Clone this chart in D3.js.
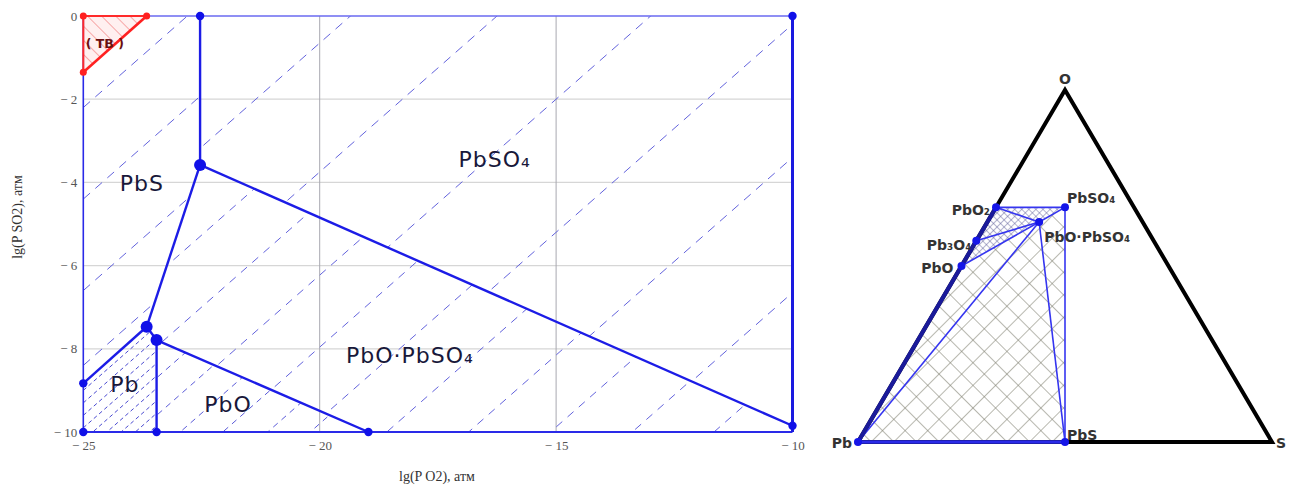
<!DOCTYPE html>
<html><head><meta charset="utf-8">
<script src="https://cdn.jsdelivr.net/npm/d3@7"></script>
<style>body{margin:0;background:#fff;} svg{display:block}</style>
</head><body>
<svg id="c" width="1293" height="489"></svg>
<script>
// ---------- DATA: left diagram (lg P O2 vs lg P SO2) ----------
const xTicks = [-25, -20, -15, -10];
const yTicks = [0, -2, -4, -6, -8, -10];
const xGrid = [-20, -15];
const yGrid = [-2, -4, -6, -8];

// phase boundaries [lgPO2, lgPSO2]
const bPbS_PbSO4 = [[-22.53, 0], [-22.53, -3.58]];
const bPbSO4_PbOPbSO4 = [[-22.53, -3.58], [-10, -9.85]];
const bPbS_PbOPbSO4 = [[-22.53, -3.58], [-23.66, -7.47]];
const bPbS_Pb = [[-23.66, -7.47], [-25, -8.83]];
const bPb_PbOPbSO4 = [[-23.66, -7.47], [-23.45, -7.79]];
const bPb_PbO = [[-23.45, -7.79], [-23.45, -10]];
const bPbO_PbOPbSO4 = [[-23.45, -7.79], [-18.97, -10]];
const bRed = [[-25, -1.35], [-23.66, 0]];

const bigPoints = [[-22.53, -3.58], [-23.66, -7.47], [-23.45, -7.79]];
const smallPoints = [[-22.53, 0], [-25, -8.83], [-23.45, -10], [-18.97, -10], [-25, -10], [-10, 0], [-10, -9.85]];
const redPoints = [[-25, -1.35], [-23.66, 0], [-25, 0]];

// regions (polygons)
const regPbS = [[-25, 0], [-22.53, 0], [-22.53, -3.58], [-23.66, -7.47], [-25, -8.83]];
const regPbSO4 = [[-22.53, 0], [-10, 0], [-10, -9.85], [-22.53, -3.58]];
const regPbOPbSO4 = [[-22.53, -3.58], [-10, -9.85], [-10, -10], [-18.97, -10], [-23.45, -7.79], [-23.66, -7.47]];
const regPbO = [[-23.45, -7.79], [-18.97, -10], [-23.45, -10]];
const regPb = [[-25, -8.83], [-23.66, -7.47], [-23.45, -7.79], [-23.45, -10], [-25, -10]];
const regRed = [[-25, 0], [-23.66, 0], [-25, -1.35]];

// dashed isolines (lgPSO2 = lgPO2 + c), intercepts c per region
const isoPbS = [22.8, 20.6, 18.4, 16.6];
const isoPbSO4 = [19.35, 16.25, 13.0, 9.8, 6.6, 3.35];
const isoPbOPbSO4 = [1.66, 3.39, 5.12, 6.85, 8.58, 10.31, 12.04, 13.77, 15.5, 17.23];
const isoPbO = [10.2, 11.1, 12.05, 12.95, 13.85, 14.75, 15.6];
const isoPb = [13.6, 13.9, 14.2, 14.5, 14.8, 15.1, 15.4, 15.7, 16.0];

// region labels [text, lgPO2 (centre), lgPSO2 (baseline)]
const regionNames = ["PbS", "PbSO₄", "Pb", "PbO", "PbO·PbSO₄"];
const regionX = [-23.76, -16.3, -24.12, -21.94, -18.09];
const regionY = [-4.21, -3.63, -9.04, -9.52, -8.34];

// ---------- DATA: ternary Pb–S–O ----------
const triPhases = ["Pb", "S", "O", "PbS", "PbO", "Pb3O4", "PbO2", "PbSO4", "PbO·PbSO4"];
const triLabels = ["Pb", "S", "O", "PbS", "PbO", "Pb₃O₄", "PbO₂", "PbSO₄", "PbO·PbSO₄"];
const triPb = [1, 0, 0, 1, 1, 3, 1, 1, 2];
const triS  = [0, 1, 0, 1, 0, 0, 0, 1, 1];
const triO  = [0, 0, 1, 0, 1, 4, 2, 4, 5];
const tieLines = [["PbO2", "PbSO4"], ["PbO2", "PbO·PbSO4"], ["Pb3O4", "PbO·PbSO4"], ["PbO", "PbO·PbSO4"],
                  ["PbSO4", "PbO·PbSO4"], ["Pb", "PbO·PbSO4"], ["PbS", "PbO·PbSO4"], ["PbS", "PbSO4"]];
const coarseHatch = ["Pb", "PbO", "PbO·PbSO4", "PbSO4", "PbS"];
const denseHatch = ["PbO", "PbO2", "PbSO4", "PbO·PbSO4"];
const triDots = ["Pb", "PbS", "PbO", "Pb3O4", "PbO2", "PbSO4", "PbO·PbSO4"];

// ---------- DRAW ----------
const svg = d3.select("#c");
const defs = svg.append("defs");
const x = d3.scaleLinear().domain([-25, -10]).range([83.3, 792.5]);
const y = d3.scaleLinear().domain([0, -10]).range([16, 432]);
const line = d3.line().x(d => x(d[0])).y(d => y(d[1]));
const poly = pts => line(pts) + "Z";

// grid
svg.append("g").selectAll("line").data(yGrid).join("line")
  .attr("x1", x(-25)).attr("x2", x(-10)).attr("y1", d => y(d)).attr("y2", d => y(d))
  .attr("stroke", "#d6d6d6").attr("stroke-width", 1.3);
svg.append("g").selectAll("line").data(xGrid).join("line")
  .attr("y1", y(0)).attr("y2", y(-10)).attr("x1", d => x(d)).attr("x2", d => x(d))
  .attr("stroke", "#a8a8b0").attr("stroke-width", 1);

// red region
defs.append("pattern").attr("id", "redh").attr("patternUnits", "userSpaceOnUse")
  .attr("width", 10).attr("height", 10).attr("patternTransform", "rotate(-45)")
  .append("line").attr("x1", 0).attr("y1", 0).attr("x2", 0).attr("y2", 10)
  .attr("stroke", "#f06060").attr("stroke-width", 1);
svg.append("path").attr("d", poly(regRed)).attr("fill", "#fff0f0");
svg.append("path").attr("d", poly(regRed)).attr("fill", "url(#redh)");

// isolines clipped per region
function isoGroup(id, region, cs, dash, color, width) {
  defs.append("clipPath").attr("id", id).append("path").attr("d", poly(region));
  svg.append("g").attr("clip-path", `url(#${id})`).selectAll("line").data(cs).join("line")
    .attr("x1", x(-25)).attr("y1", c => y(-25 + c))
    .attr("x2", x(-10)).attr("y2", c => y(-10 + c))
    .attr("stroke", color).attr("stroke-width", width).attr("stroke-dasharray", dash);
}
isoGroup("cPbS", regPbS, isoPbS, "9,7", "#6262dc", 1);
isoGroup("cPbSO4", regPbSO4, isoPbSO4, "9,7", "#6262dc", 1);
isoGroup("cPbOPbSO4", regPbOPbSO4, isoPbOPbSO4, "8,7", "#6262dc", 1);
isoGroup("cPbO", regPbO, isoPbO, "6,5", "#5a5ad8", 1);
isoGroup("cPb", regPb, isoPb, "4,3", "#4a4ad0", 1);

// frame
svg.append("line").attr("x1", x(-25)).attr("x2", x(-10)).attr("y1", y(0)).attr("y2", y(0))
  .attr("stroke", "#6a6af0").attr("stroke-width", 1.6);
svg.append("line").attr("x1", x(-25)).attr("x2", x(-25)).attr("y1", y(0)).attr("y2", y(-10))
  .attr("stroke", "#2a2ae8").attr("stroke-width", 1.6);
svg.append("line").attr("x1", x(-25)).attr("x2", x(-10)).attr("y1", y(-10)).attr("y2", y(-10))
  .attr("stroke", "#2a2ae8").attr("stroke-width", 2.2);
svg.append("line").attr("x1", x(-10)).attr("x2", x(-10)).attr("y1", y(0)).attr("y2", y(-10))
  .attr("stroke", "#1a1ae0").attr("stroke-width", 3);

// red boundary
svg.append("path").attr("d", line([[-23.66, 0], [-25, 0]])).attr("stroke", "#ff2a2a").attr("stroke-width", 2).attr("fill", "none");
svg.append("path").attr("d", line([[-25, 0], [-25, -1.35]])).attr("stroke", "#ff2a2a").attr("stroke-width", 2).attr("fill", "none");
svg.append("path").attr("d", line(bRed)).attr("stroke", "#ff2020").attr("stroke-width", 2.6).attr("fill", "none");
svg.selectAll(".rp").data(redPoints).join("circle").attr("cx", d => x(d[0])).attr("cy", d => y(d[1]))
  .attr("r", 3.5).attr("fill", "#ff2020");
svg.append("text").attr("x", x(-24.95)).attr("y", y(-0.78)).text("( ТВ )")
  .attr("font-family", "DejaVu Sans").attr("font-size", 12.5).attr("font-weight", "bold").attr("fill", "#6a1010");

// phase boundaries
[bPbS_PbSO4, bPbSO4_PbOPbSO4, bPbS_PbOPbSO4, bPbS_Pb, bPb_PbOPbSO4, bPb_PbO, bPbO_PbOPbSO4].forEach(b =>
  svg.append("path").attr("d", line(b)).attr("fill", "none").attr("stroke", "#1c1ce6").attr("stroke-width", 2.4));
svg.selectAll(".bp").data(bigPoints).join("circle").attr("cx", d => x(d[0])).attr("cy", d => y(d[1]))
  .attr("r", 6).attr("fill", "#1010e8");
svg.selectAll(".sp").data(smallPoints).join("circle").attr("cx", d => x(d[0])).attr("cy", d => y(d[1]))
  .attr("r", 4.2).attr("fill", "#1010e8");

// region labels
svg.selectAll(".rl").data(regionNames).join("text")
  .attr("x", (d, i) => x(regionX[i])).attr("y", (d, i) => y(regionY[i]))
  .attr("text-anchor", "middle").text(d => d)
  .attr("font-family", "DejaVu Sans").attr("font-size", 22).attr("letter-spacing", 1)
  .attr("fill", "#18183a");

// axes
const fmt = d => d === 0 ? "0" : "− " + Math.abs(d);
const ax = svg.append("g").attr("transform", `translate(0,${y(-10)})`)
  .call(d3.axisBottom(x).tickValues(xTicks).tickSize(0).tickPadding(9).tickFormat(fmt));
const ay = svg.append("g").attr("transform", `translate(${x(-25)},0)`)
  .call(d3.axisLeft(y).tickValues(yTicks).tickSize(0).tickPadding(6).tickFormat(fmt));
[ax, ay].forEach(a => {
  a.select(".domain").remove();
  a.selectAll("text").attr("font-family", "Liberation Serif").attr("font-size", 13).attr("fill", "#555");
});
svg.append("text").attr("x", 437).attr("y", 481).attr("text-anchor", "middle")
  .text("lg(P O2), атм").attr("font-family", "Liberation Serif").attr("font-size", 14).attr("fill", "#333");
svg.append("text").attr("transform", "translate(22,217) rotate(-90)").attr("text-anchor", "middle")
  .text("lg(P SO2), атм").attr("font-family", "Liberation Serif").attr("font-size", 14).attr("fill", "#333");

// ---------- ternary ----------
const tx = d3.scaleLinear().domain([0, 1]).range([858, 1272]);
const ty = d3.scaleLinear().domain([0, 1]).range([442, 90]);
const pos = {};
triPhases.forEach((p, i) => {
  const n = triPb[i] + triS[i] + triO[i];
  const s = triS[i] / n, o = triO[i] / n;
  pos[p] = [tx(s + o / 2), ty(o)];
});
const tline = d3.line();
const tg = svg.append("g");

defs.append("pattern").attr("id", "xh").attr("patternUnits", "userSpaceOnUse")
  .attr("width", 16).attr("height", 16).attr("patternTransform", "rotate(45)")
  .call(p => {
    p.append("line").attr("x1", 0).attr("y1", 0).attr("x2", 0).attr("y2", 16).attr("stroke", "#7c7c6c").attr("stroke-width", 1.1);
    p.append("line").attr("x1", 0).attr("y1", 0).attr("x2", 16).attr("y2", 0).attr("stroke", "#7c7c6c").attr("stroke-width", 1.1);
  });
defs.append("pattern").attr("id", "xd").attr("patternUnits", "userSpaceOnUse")
  .attr("width", 5).attr("height", 5).attr("patternTransform", "rotate(45)")
  .call(p => {
    p.append("line").attr("x1", 0).attr("y1", 0).attr("x2", 0).attr("y2", 5).attr("stroke", "#5a5a96").attr("stroke-width", 0.9);
    p.append("line").attr("x1", 0).attr("y1", 0).attr("x2", 5).attr("y2", 0).attr("stroke", "#5a5a96").attr("stroke-width", 0.9);
  });
tg.append("path").attr("d", tline(coarseHatch.map(p => pos[p])) + "Z").attr("fill", "url(#xh)");
tg.append("path").attr("d", tline(denseHatch.map(p => pos[p])) + "Z").attr("fill", "url(#xd)");

// triangle edges
tg.append("path").attr("d", tline([pos.Pb, pos.S, pos.O]) + "Z").attr("fill", "none")
  .attr("stroke", "#000").attr("stroke-width", 4).attr("stroke-linejoin", "miter");
// tie lines
tg.selectAll(".tl").data(tieLines).join("path").attr("d", d => tline([pos[d[0]], pos[d[1]]]))
  .attr("stroke", "#3535f0").attr("stroke-width", 1.6).attr("fill", "none");
tg.append("path").attr("d", tline([pos.Pb, pos.PbO2])).attr("stroke", "#1a1a9a").attr("stroke-width", 4.2);
tg.append("path").attr("d", tline([pos.Pb, pos.PbS])).attr("stroke", "#2a2ae8").attr("stroke-width", 3.5);
tg.selectAll(".td").data(triDots).join("circle").attr("cx", d => pos[d][0]).attr("cy", d => pos[d][1])
  .attr("r", 4).attr("fill", "#1515e8");

// ternary labels
const lblOff = {
  "Pb": [-6, 6, "end"], "S": [4, 6, "start"], "O": [0, -6, "middle"], "PbS": [2, -2, "start"],
  "PbO": [-8, 7, "end"], "Pb3O4": [-5, 9, "end"], "PbO2": [-6, 8, "end"],
  "PbSO4": [2, -4, "start"], "PbO·PbSO4": [5, 20, "start"]
};
tg.selectAll(".tt").data(triPhases).join("text")
  .attr("x", d => pos[d][0] + lblOff[d][0]).attr("y", d => pos[d][1] + lblOff[d][1])
  .attr("text-anchor", d => lblOff[d][2]).text((d, i) => triLabels[i])
  .attr("font-family", "DejaVu Sans").attr("font-size", 14).attr("font-weight", "bold")
  .attr("fill", "#333");
</script>
</body></html>
